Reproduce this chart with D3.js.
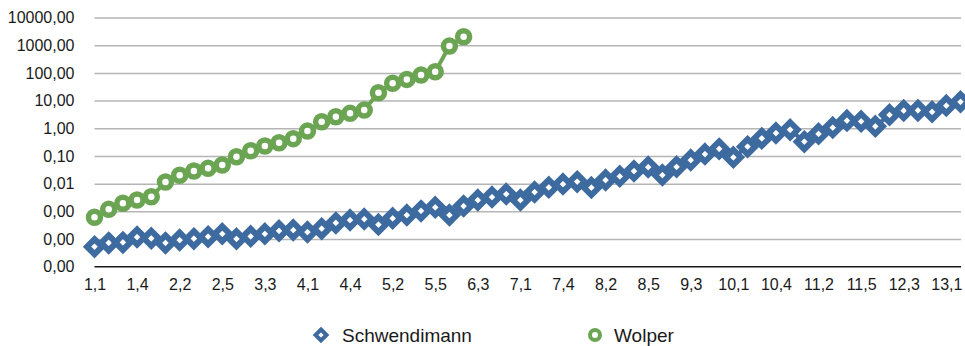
<!DOCTYPE html>
<html>
<head>
<meta charset="utf-8">
<script src="https://cdn.jsdelivr.net/npm/d3@7"></script>
<style>
  body { margin: 0; background: #fff; }
  svg text { font-family: "Liberation Sans", Arial, Helvetica, sans-serif; fill: #1a1a1a; }
</style>
</head>
<body>
<svg class="chart" width="965" height="346"></svg>
<script>
// categories (x axis)
var categories = [
  "1,1","1,2","1,3","1,4","1,5","2,1","2,2","2,3","2,4","2,5",
  "3,1","3,2","3,3","3,4","3,5","4,1","4,2","4,3","4,4","4,5",
  "5,1","5,2","5,3","5,4","5,5","6,1","6,2","6,3","6,4","6,5",
  "7,1","7,2","7,3","7,4","7,5","8,1","8,2","8,3","8,4","8,5",
  "9,1","9,2","9,3","9,4","9,5","10,1","10,2","10,3","10,4","10,5",
  "11,1","11,2","11,3","11,4","11,5","12,1","12,2","12,3","12,4","12,5",
  "13,1","13,2"
];

var xTickLabels = ["1,1","1,4","2,2","2,5","3,3","4,1","4,4","5,2","5,5","6,3","7,1",
  "7,4","8,2","8,5","9,3","10,1","10,4","11,2","11,5","12,3","13,1"];

var yTicks = [0.00001, 0.0001, 0.001, 0.01, 0.1, 1, 10, 100, 1000, 10000];

var schwendimann = [
  0.0000527, 0.0000718, 0.000075, 0.000118, 0.000106,
  0.0000718, 0.000092, 0.000103, 0.000121, 0.000154,
  0.000102, 0.000125, 0.000154, 0.000198, 0.000211,
  0.000179, 0.000236, 0.000379, 0.000485, 0.000527,
  0.000333, 0.000558, 0.000734, 0.00103, 0.00139,
  0.000734, 0.00155, 0.00256, 0.00328, 0.00422,
  0.00256, 0.00498, 0.00734, 0.00968, 0.0117,
  0.00723, 0.0135, 0.0184, 0.0285, 0.0397,
  0.0204, 0.0407, 0.0711, 0.117, 0.180,
  0.089, 0.215, 0.431, 0.671, 0.883,
  0.326, 0.632, 1.06, 1.90, 1.79,
  1.17, 3.07, 4.36, 4.40, 3.94,
  6.6, 9.05
];

var wolper = [
  0.00061, 0.00118, 0.00195, 0.00256, 0.00337,
  0.0114, 0.020, 0.0285, 0.0356, 0.047,
  0.094, 0.154, 0.228, 0.30, 0.42,
  0.79, 1.72, 2.6, 3.45, 4.54,
  19.1, 41.8, 58, 83, 110,
  929, 2010
];

var blue = "#3d6a9f";
var green = "#6ba553";

var svg = d3.select(".chart");

var plotLeft = 94.5, plotRight = 960.5, plotTop = 17.5, plotBottom = 266.7;

var x = d3.scalePoint()
  .domain(categories)
  .range([plotLeft, plotRight]);

var y = d3.scaleLog()
  .domain([0.00001, 10000])
  .range([plotBottom, plotTop]);

// gridlines
svg.append("g")
  .attr("class", "grid")
  .attr("transform", "translate(" + plotLeft + ",0)")
  .call(d3.axisLeft(y).tickValues(yTicks.slice(1)).tickSize(-(plotRight + 0.5 - plotLeft)).tickFormat(""))
  .call(g => g.select(".domain").remove())
  .call(g => g.selectAll("line").attr("stroke", "#b5b5b5").attr("stroke-width", 1.5));

// y labels
svg.append("g")
  .attr("transform", "translate(" + plotLeft + ",0)")
  .call(d3.axisLeft(y).tickValues(yTicks).tickSize(0).tickPadding(20)
    .tickFormat(d => d.toFixed(2).replace(".", ",")))
  .call(g => g.select(".domain").remove())
  .call(g => g.selectAll("text").attr("font-size", 16).attr("fill", "#1a1a1a")
    .style("font-family", "'Liberation Sans', Arial, sans-serif"));

// x axis
svg.append("g")
  .attr("transform", "translate(0," + plotBottom + ")")
  .call(d3.axisBottom(x).tickValues(xTickLabels).tickSize(0).tickPadding(12))
  .call(g => g.select(".domain").attr("d", "M" + plotLeft + ",0H" + (plotRight + 0.5))
    .attr("stroke", "#1a1a1a").attr("stroke-width", 1.6))
  .call(g => g.selectAll("text").attr("font-size", 16).attr("fill", "#1a1a1a")
    .style("font-family", "'Liberation Sans', Arial, sans-serif"));

var line = d3.line()
  .x((d, i) => x(categories[i]))
  .y(d => y(d));

// Schwendimann
svg.append("path")
  .datum(schwendimann)
  .attr("fill", "none")
  .attr("stroke", blue)
  .attr("stroke-width", 4)
  .attr("d", line);

var diamond = "M0,-7.5L7.5,0L0,7.5L-7.5,0Z";

svg.append("g").selectAll("path")
  .data(schwendimann)
  .enter().append("path")
  .attr("d", diamond)
  .attr("transform", (d, i) => "translate(" + x(categories[i]) + "," + y(d) + ")")
  .attr("fill", "#fff")
  .attr("stroke", blue)
  .attr("stroke-width", 6);

// Wolper
svg.append("path")
  .datum(wolper)
  .attr("fill", "none")
  .attr("stroke", green)
  .attr("stroke-width", 4)
  .attr("d", line);

svg.append("g").selectAll("circle")
  .data(wolper)
  .enter().append("circle")
  .attr("cx", (d, i) => x(categories[i]))
  .attr("cy", d => y(d))
  .attr("r", 6)
  .attr("fill", "#fff")
  .attr("stroke", green)
  .attr("stroke-width", 5.5);

// legend
var legend = svg.append("g").attr("class", "legend");

legend.append("path")
  .attr("d", "M0,-5.5L5.5,0L0,5.5L-5.5,0Z")
  .attr("transform", "translate(321,335)")
  .attr("fill", "#fff")
  .attr("stroke", blue)
  .attr("stroke-width", 4);

legend.append("text")
  .attr("x", 342)
  .attr("y", 342)
  .attr("font-size", 19)
  .text("Schwendimann");

legend.append("circle")
  .attr("cx", 595)
  .attr("cy", 335)
  .attr("r", 5)
  .attr("fill", "#fff")
  .attr("stroke", green)
  .attr("stroke-width", 4);

legend.append("text")
  .attr("x", 614)
  .attr("y", 342)
  .attr("font-size", 19)
  .text("Wolper");
</script>
</body>
</html>
